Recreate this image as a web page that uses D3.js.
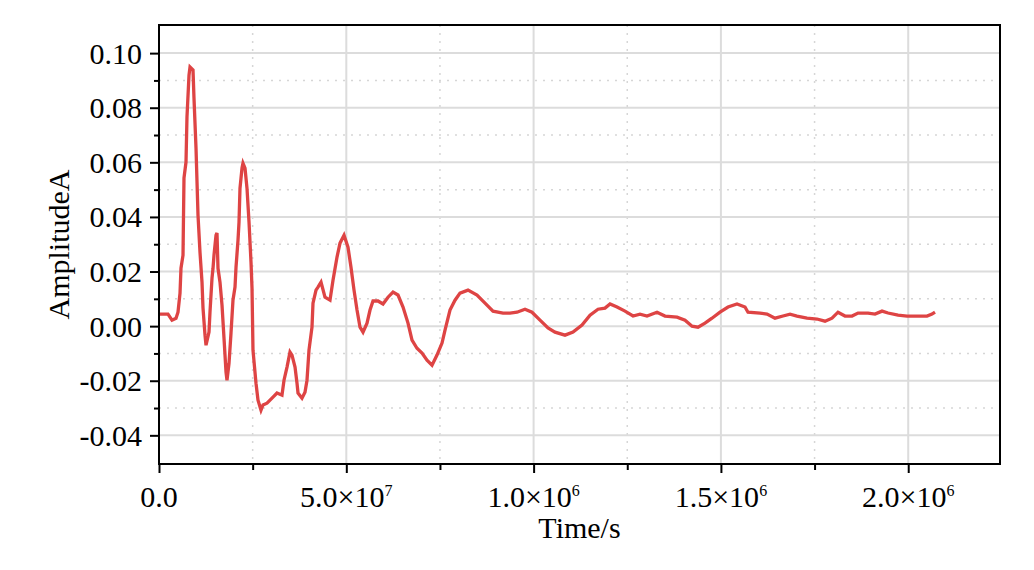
<!DOCTYPE html>
<html><head><meta charset="utf-8">
<script src="https://cdn.jsdelivr.net/npm/d3@7"></script>
<style>
body{margin:0;background:#fff}
svg{display:block}
text{font-family:"Liberation Serif","Times New Roman",serif;fill:#000}
</style></head>
<body><svg id="c" width="1034" height="570"></svg>
<script>
// time in units of 10^3 s
const timeK=[2.7,24.0,34.7,45.4,50.7,56.1,58.7,64.1,66.7,72.1,74.7,80.1,82.8,90.8,93.4,98.8,104.1,109.4,114.8,117.5,122.8,125.5,133.5,136.1,141.5,144.2,146.8,152.2,154.8,157.5,162.8,168.2,173.5,178.9,181.5,186.9,192.2,197.5,202.9,205.6,210.9,213.6,216.2,221.6,224.2,229.6,234.9,240.3,245.6,248.3,250.9,258.9,264.3,272.3,277.6,288.3,304.3,315.0,328.3,333.7,341.7,349.7,355.0,363.1,368.4,371.1,381.7,389.7,395.1,400.4,408.4,411.1,419.1,424.4,432.5,443.1,456.5,464.5,475.2,483.2,493.9,504.5,512.5,520.6,528.6,536.6,544.6,555.3,563.3,571.3,584.6,598.0,611.3,624.7,638.0,651.4,664.7,675.4,688.7,702.1,715.4,728.8,742.1,755.5,763.5,776.8,790.2,803.5,824.9,848.9,870.3,891.6,918.3,937.0,955.7,977.0,995.7,1017.1,1038.4,1057.1,1083.8,1105.2,1129.2,1150.6,1171.9,1190.6,1204.0,1222.7,1244.0,1265.4,1284.0,1302.7,1329.4,1350.8,1382.8,1404.2,1422.9,1438.9,1457.5,1476.2,1497.6,1519.0,1543.0,1564.3,1572.3,1604.4,1623.1,1644.4,1665.8,1684.5,1703.1,1729.8,1756.5,1777.9,1796.6,1812.6,1831.3,1850.0,1866.0,1892.7,1911.4,1930.1,1946.1,1972.8,1996.8,2050.2,2063.5,2071.5];
const amplitude=[0.0044,0.0044,0.0022,0.0029,0.0051,0.0121,0.0212,0.0260,0.0542,0.0601,0.0766,0.0919,0.0949,0.0938,0.0835,0.0652,0.0407,0.0271,0.0161,0.0066,-0.0033,-0.0070,-0.0022,0.0051,0.0176,0.0212,0.0260,0.0333,0.0341,0.0212,0.0161,0.0077,-0.0044,-0.0168,-0.0198,-0.0136,-0.0026,0.0095,0.0143,0.0216,0.0315,0.0381,0.0505,0.0579,0.0597,0.0579,0.0505,0.0381,0.0234,0.0139,-0.0088,-0.0209,-0.0271,-0.0308,-0.0289,-0.0282,-0.0260,-0.0245,-0.0253,-0.0198,-0.0150,-0.0095,-0.0106,-0.0150,-0.0209,-0.0245,-0.0264,-0.0242,-0.0198,-0.0088,-0.0004,0.0084,0.0132,0.0143,0.0161,0.0106,0.0095,0.0168,0.0253,0.0304,0.0333,0.0289,0.0216,0.0132,0.0059,-0.0004,-0.0022,0.0011,0.0059,0.0092,0.0092,0.0081,0.0106,0.0125,0.0114,0.0070,0.0011,-0.0051,-0.0081,-0.0099,-0.0125,-0.0143,-0.0106,-0.0062,-0.0015,0.0059,0.0095,0.0121,0.0132,0.0114,0.0084,0.0055,0.0048,0.0048,0.0051,0.0062,0.0051,0.0022,-0.0007,-0.0022,-0.0033,-0.0022,0.0004,0.0040,0.0062,0.0066,0.0081,0.0070,0.0055,0.0037,0.0044,0.0037,0.0051,0.0037,0.0033,0.0022,0.0000,-0.0004,0.0011,0.0029,0.0051,0.0070,0.0081,0.0070,0.0051,0.0048,0.0044,0.0029,0.0037,0.0044,0.0037,0.0029,0.0026,0.0018,0.0029,0.0051,0.0037,0.0037,0.0048,0.0048,0.0044,0.0055,0.0048,0.0040,0.0037,0.0037,0.0044,0.0051];

const yMajorTicks=[-0.04,-0.02,0,0.02,0.04,0.06,0.08,0.10];
const yMinorTicks=[-0.03,-0.01,0.01,0.03,0.05,0.07,0.09];
const yTickLabels=["-0.04","-0.02","0.00","0.02","0.04","0.06","0.08","0.10"];
const xMajorTicks=[0,500,1000,1500,2000];
const xMinorTicks=[250,750,1250,1750];
const xTickMantissa=["0.0","5.0×10","1.0×10","1.5×10","2.0×10"];
const xTickExponent=["","7","6","6","6"];
const xTitle="Time/s";
const yTitle="AmplitudeA";

const L=159,R=1000,T=25,B=464;
const x=d3.scaleLinear().domain([0,2245]).range([L,R]);
const y=d3.scaleLinear().domain([-0.0505,0.1103]).range([B,T]);
const svg=d3.select("#c");

// grid
const g=svg.append("g");
g.selectAll(".vmin").data(xMinorTicks).join("line")
 .attr("x1",d=>x(d)).attr("x2",d=>x(d)).attr("y1",T).attr("y2",B)
 .attr("stroke","#d6d6d6").attr("stroke-width",1.5).attr("stroke-dasharray","2,6");
g.selectAll(".hmin").data(yMinorTicks).join("line")
 .attr("y1",d=>y(d)).attr("y2",d=>y(d)).attr("x1",L).attr("x2",R)
 .attr("stroke","#d6d6d6").attr("stroke-width",1.5).attr("stroke-dasharray","2,6");
g.selectAll(".vmaj").data(xMajorTicks.filter(d=>d>0)).join("line")
 .attr("x1",d=>x(d)).attr("x2",d=>x(d)).attr("y1",T).attr("y2",B)
 .attr("stroke","#dcdcdc").attr("stroke-width",2);
g.selectAll(".hmaj").data(yMajorTicks).join("line")
 .attr("y1",d=>y(d)).attr("y2",d=>y(d)).attr("x1",L).attr("x2",R)
 .attr("stroke","#dcdcdc").attr("stroke-width",2);

// data line
const pts=timeK.map((t,i)=>[t,amplitude[i]]);
svg.append("path").datum(pts)
 .attr("d",d3.line().x(d=>x(d[0])).y(d=>y(d[1])))
 .attr("fill","none").attr("stroke","#de4444").attr("stroke-width",3.3)
 .attr("stroke-linejoin","miter");

// frame
svg.append("rect").attr("x",L).attr("y",T).attr("width",R-L).attr("height",B-T)
 .attr("fill","none").attr("stroke","#000").attr("stroke-width",2);

// axes ticks
const ax=svg.append("g").attr("transform",`translate(0,${B})`)
 .call(d3.axisBottom(x).tickValues(xMajorTicks).tickSize(9).tickFormat(""));
const axm=svg.append("g").attr("transform",`translate(0,${B})`)
 .call(d3.axisBottom(x).tickValues(xMinorTicks).tickSize(6).tickFormat(""));
const ay=svg.append("g").attr("transform",`translate(${L},0)`)
 .call(d3.axisLeft(y).tickValues(yMajorTicks).tickSize(9).tickFormat(""));
const aym=svg.append("g").attr("transform",`translate(${L},0)`)
 .call(d3.axisLeft(y).tickValues(yMinorTicks).tickSize(5).tickFormat(""));
[ax,axm,ay,aym].forEach(a=>{a.select(".domain").remove();a.selectAll("line").attr("stroke","#000").attr("stroke-width",2);});

// labels
svg.selectAll(".yl").data(yMajorTicks).join("text")
 .attr("x",142).attr("y",d=>y(d)).attr("dy","0.35em")
 .attr("text-anchor","end").attr("font-size",30)
 .text((d,i)=>yTickLabels[i]);
const xl=svg.selectAll(".xl").data(xMajorTicks).join("text")
 .attr("x",d=>x(d)).attr("y",507).attr("text-anchor","middle").attr("font-size",30);
xl.append("tspan").text((d,i)=>xTickMantissa[i]);
xl.append("tspan").attr("font-size",16).attr("dy",-11).text((d,i)=>xTickExponent[i]);

svg.append("text").attr("x",(L+R)/2).attr("y",538).attr("text-anchor","middle")
 .attr("font-size",30).text(xTitle);
svg.append("text").attr("transform",`translate(69,${(T+B)/2}) rotate(-90)`)
 .attr("text-anchor","middle").attr("font-size",30).text(yTitle);
</script></body></html>
